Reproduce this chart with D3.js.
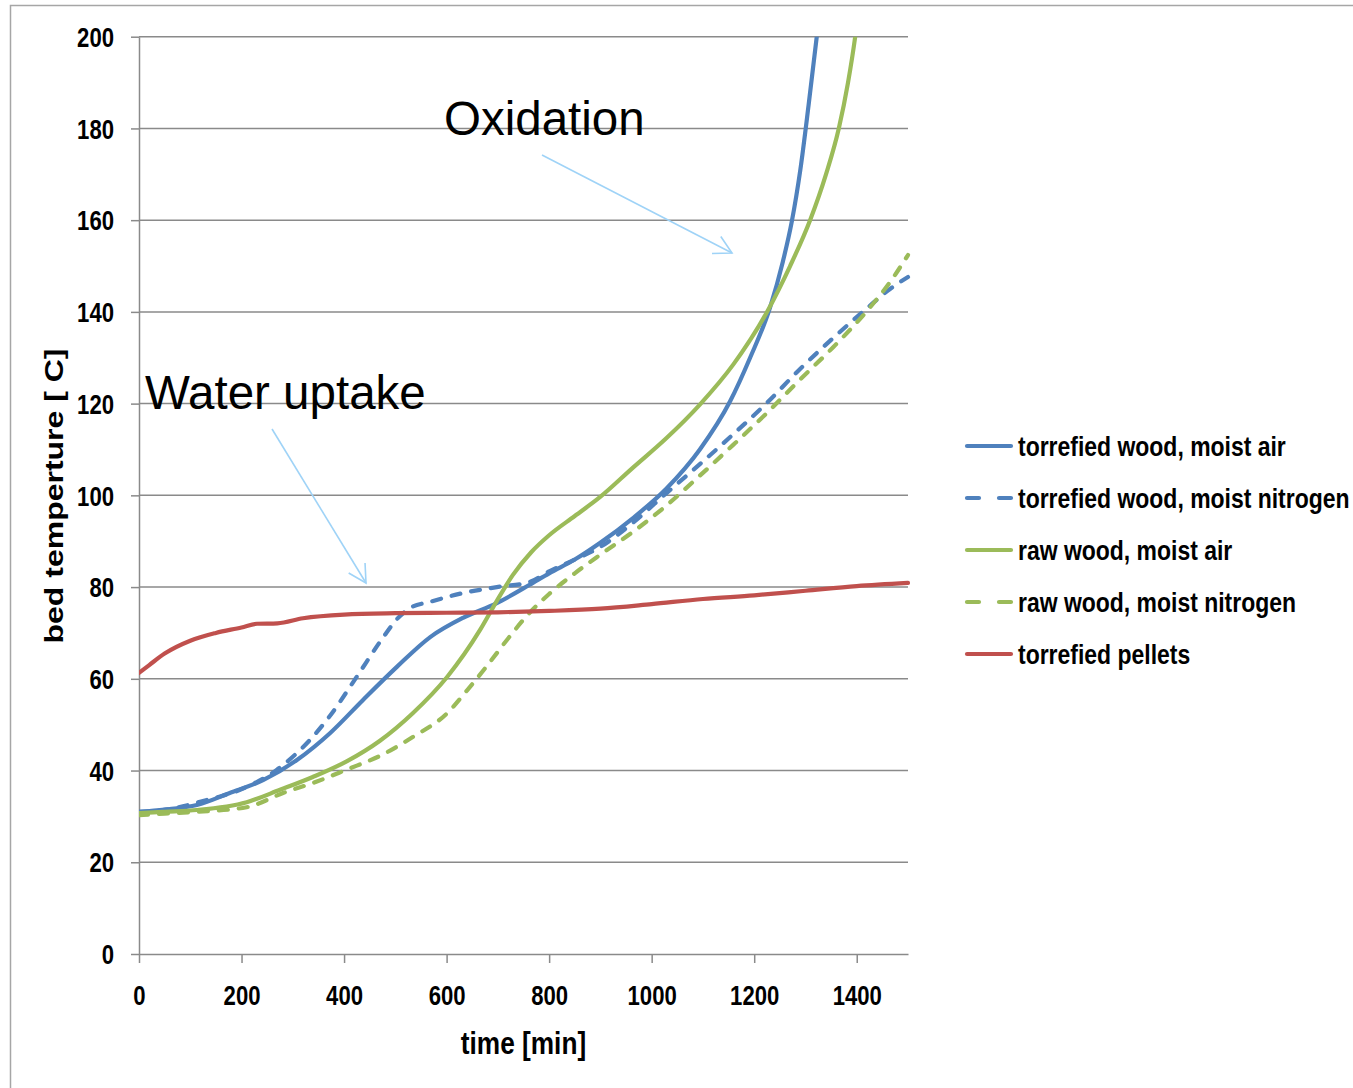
<!DOCTYPE html>
<html>
<head>
<meta charset="utf-8">
<script src="https://cdn.jsdelivr.net/npm/d3@7"></script>
<style>
  html, body { margin: 0; padding: 0; background: #fff; }
  svg { display: block; }
  text { font-family: "Liberation Sans", Arial, sans-serif; }
</style>
</head>
<body>
<svg id="chart" width="1353" height="1088"></svg>
<script>
// ---------- data ----------
const xTicks = [0, 200, 400, 600, 800, 1000, 1200, 1400];
const yTicks = [0, 20, 40, 60, 80, 100, 120, 140, 160, 180, 200];

const seriesNames = [
  "torrefied wood, moist air",
  "torrefied wood, moist nitrogen",
  "raw wood, moist air",
  "raw wood, moist nitrogen",
  "torrefied pellets"
];
const seriesColors = ["#4F81BD", "#4F81BD", "#9BBB59", "#9BBB59", "#C0504D"];
const seriesDashed = [false, true, false, true, false];

const twAirTime = [0, 50, 113, 177, 242, 308, 373, 437, 503, 568, 632, 698, 762, 800, 850, 899, 963, 1029, 1094, 1153, 1192, 1231, 1256, 1273, 1290, 1306, 1322, 1332];
const twAirTemp = [31, 31.5, 32.5, 35.1, 37.9, 42.3, 48.2, 55.4, 62.6, 69.1, 73.3, 76.5, 80.5, 83, 86, 89.6, 95, 101.5, 110, 120.5, 130, 141, 151, 159.5, 171, 185, 200, 210];

const twN2Time = [0, 47, 133, 197, 268, 300, 332, 373, 425, 476, 503, 530, 568, 632, 698, 762, 800, 850, 899, 963, 1029, 1094, 1159, 1225, 1289, 1354, 1420, 1465, 1500];
const twN2Temp = [31, 31.4, 33.6, 35.8, 40.1, 43, 46.5, 52, 60.5, 69, 73, 75.5, 76.8, 78.7, 80, 81.1, 83.4, 86, 88.7, 94, 100.5, 106.8, 113.3, 120.2, 127.5, 134.3, 140.8, 145, 147.6];

const rawAirTime = [0, 50, 113, 210, 275, 339, 405, 470, 534, 601, 665, 698, 729, 765, 800, 850, 899, 963, 1029, 1094, 1159, 1225, 1270, 1309, 1340, 1365, 1383, 1397, 1410];
const rawAirTemp = [30.7, 31, 31.4, 33.1, 35.8, 38.6, 42, 46.5, 52.5, 60.4, 70.6, 77, 82.6, 87.6, 91.3, 95.5, 99.6, 106, 112.5, 119.8, 128.5, 140, 150, 160, 170, 180, 190, 200, 212];

const rawN2Time = [0, 50, 113, 210, 281, 347, 405, 470, 534, 601, 640, 680, 720, 757, 800, 850, 899, 963, 1029, 1094, 1159, 1225, 1289, 1354, 1420, 1465, 1500];
const rawN2Temp = [30.3, 30.6, 31, 32, 35.1, 37.6, 40.2, 43.2, 47.3, 52.5, 57.5, 63, 68.8, 73.8, 78.5, 83, 87, 92, 97.8, 104.3, 111, 118, 125.2, 132.3, 140.2, 146.5, 152.4];

const pelletTime = [0, 20, 50, 100, 150, 200, 230, 270, 320, 400, 500, 600, 700, 800, 900, 1000, 1100, 1200, 1300, 1400, 1500];
const pelletTemp = [61.3, 63, 65.5, 68.3, 70, 71.2, 72, 72.1, 73.2, 74, 74.3, 74.4, 74.5, 74.8, 75.3, 76.3, 77.4, 78.2, 79.2, 80.2, 80.9];

const seriesTimes = [twAirTime, twN2Time, rawAirTime, rawN2Time, pelletTime];
const seriesTemps = [twAirTemp, twN2Temp, rawAirTemp, rawN2Temp, pelletTemp];

const xTitle = "time [min]";
const yTitle = "bed temperture [ C]";
const annotations = [
  { text: "Water uptake", x: 145, y: 409, from: [272, 429], to: [366, 583] },
  { text: "Oxidation", x: 444, y: 135, from: [542, 155], to: [732, 253] }
];

// ---------- drawing ----------
const svg = d3.select("#chart");
const SQ = 0.82; // horizontal squeeze of the chart text

const x = d3.scaleLinear().domain([0, 1500]).range([139, 908]);
const y = d3.scaleLinear().domain([0, 200]).range([954, 36.7]);

// outer frame
svg.append("rect")
  .attr("x", 10.5).attr("y", 5.5)
  .attr("width", 1400).attr("height", 1200)
  .attr("fill", "none").attr("stroke", "#a6a6a6").attr("stroke-width", 1.5);

// gridlines
svg.append("g").selectAll("line").data(yTicks.filter(d => d > 0)).join("line")
  .attr("x1", x(0)).attr("x2", x(1500))
  .attr("y1", d => y(d)).attr("y2", d => y(d))
  .attr("stroke", "#8a8a8a").attr("stroke-width", 1.5);

// axes
const gx = svg.append("g").attr("transform", `translate(0,${y(0)})`)
  .call(d3.axisBottom(x).tickValues(xTicks).tickSizeInner(9).tickSizeOuter(0).tickFormat(d3.format("d")));
const gy = svg.append("g").attr("transform", `translate(${x(0)},0)`)
  .call(d3.axisLeft(y).tickValues(yTicks).tickSizeInner(8).tickSizeOuter(0).tickFormat(d3.format("d")));

[gx, gy].forEach(g => {
  g.select(".domain").attr("stroke", "#8a8a8a").attr("stroke-width", 1.5);
  g.selectAll(".tick line").attr("stroke", "#8a8a8a").attr("stroke-width", 1.5);
  g.selectAll(".tick text")
    .attr("fill", "#000")
    .style("font-size", "27px").style("font-weight", "bold")
    .style("font-family", '"Liberation Sans", Arial, sans-serif');
});
gx.selectAll(".tick text").attr("y", 51).attr("dy", 0).attr("transform", `scale(${SQ},1)`);
gy.selectAll(".tick text").attr("x", -25 / SQ).attr("dy", 0).attr("y", 9.7).attr("transform", `scale(${SQ},1)`);

// axis titles
svg.append("text")
  .attr("transform", `translate(${(x(0) + x(1500)) / 2},1054) scale(${SQ},1)`)
  .attr("text-anchor", "middle")
  .style("font-size", "32px").style("font-weight", "bold")
  .text(xTitle);
svg.append("text")
  .attr("transform", `translate(63,496) scale(${SQ},1) rotate(-90)`)
  .attr("text-anchor", "middle")
  .style("font-size", "32px").style("font-weight", "bold")
  .text(yTitle);

// clip
svg.append("clipPath").attr("id", "plotclip").append("rect")
  .attr("x", x(0)).attr("y", y(200)).attr("width", x(1500) - x(0) + 4).attr("height", y(0) - y(200));

const line = d3.line().x(d => x(d[0])).y(d => y(d[1])).curve(d3.curveMonotoneX);
const plot = svg.append("g").attr("clip-path", "url(#plotclip)");
seriesNames.forEach((name, i) => {
  const pts = seriesTimes[i].map((t, j) => [t, seriesTemps[i][j]]);
  plot.append("path")
    .attr("d", line(pts))
    .attr("fill", "none")
    .attr("stroke", seriesColors[i])
    .attr("stroke-width", 4.2)
    .attr("stroke-linecap", "round")
    .attr("stroke-linejoin", "round")
    .attr("stroke-dasharray", seriesDashed[i] ? "9,11" : null);
});

// legend
const legend = svg.append("g");
seriesNames.forEach((name, i) => {
  const ly = 446 + i * 52;
  legend.append("line")
    .attr("x1", 967).attr("x2", 1011).attr("y1", ly).attr("y2", ly)
    .attr("stroke", seriesColors[i]).attr("stroke-width", 4.2)
    .attr("stroke-linecap", "round")
    .attr("stroke-dasharray", seriesDashed[i] ? "12,20" : null);
  legend.append("text")
    .attr("transform", `translate(1018,${ly}) scale(${SQ},1)`)
    .attr("dy", "0.35em")
    .style("font-size", "28px").style("font-weight", "bold")
    .text(name);
});

// annotations
annotations.forEach(a => {
  svg.append("text").attr("x", a.x).attr("y", a.y)
    .style("font-size", "47.5px").style("font-family", '"Liberation Sans", Arial, sans-serif')
    .attr("fill", "#000").text(a.text);
  const [x1, y1] = a.from, [x2, y2] = a.to;
  svg.append("line").attr("x1", x1).attr("y1", y1).attr("x2", x2).attr("y2", y2)
    .attr("stroke", "#9fd3f7").attr("stroke-width", 1.6);
  const ang = Math.atan2(y2 - y1, x2 - x1);
  const L = 20, spread = 0.5;
  const p1 = [x2 - L * Math.cos(ang - spread), y2 - L * Math.sin(ang - spread)];
  const p2 = [x2 - L * Math.cos(ang + spread), y2 - L * Math.sin(ang + spread)];
  svg.append("path")
    .attr("d", `M${p1[0]},${p1[1]}L${x2},${y2}L${p2[0]},${p2[1]}`)
    .attr("fill", "none").attr("stroke", "#9fd3f7").attr("stroke-width", 1.6);
});
</script>
</body>
</html>
